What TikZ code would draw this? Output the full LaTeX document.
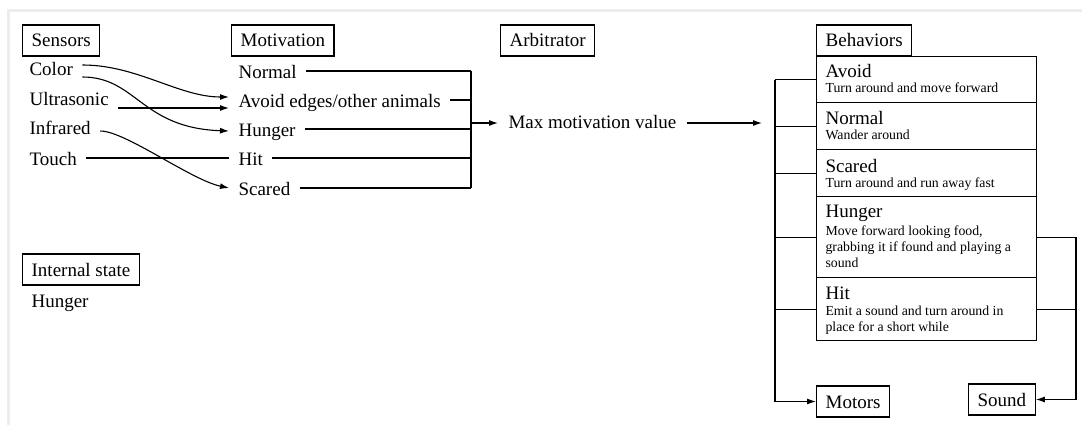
\documentclass[tikz,border=0pt]{standalone}
\usepackage{fontspec}
\setmainfont{Liberation Serif}
\usetikzlibrary{arrows.meta,calc}
\begin{document}
\begin{tikzpicture}[x=1pt,y=-1pt,
  line width=1.1pt,
  lab/.style={font=\fontsize{19}{21}\selectfont, inner xsep=9pt, inner ysep=0pt, text height=17pt, text depth=1pt, anchor=west},
  hdr/.style={draw, line width=1.3pt, font=\fontsize{19}{21}\selectfont, inner xsep=9pt, inner ysep=0pt, text height=22pt, text depth=9pt, anchor=base west},
  btitle/.style={font=\fontsize{19}{21}\selectfont, inner sep=0pt, anchor=base west},
  bsub/.style={font=\fontsize{13.8}{16}\selectfont, inner sep=0pt, anchor=base west},
  bbox/.style={draw, line width=1.3pt, minimum width=220pt, inner sep=0pt, anchor=north west},
  arr/.style={-{Latex[length=9pt,width=6pt]}}
]
\useasboundingbox (0,0) rectangle (1082,425);
% frame
\draw[line width=3pt, black!7] (1082,10.5) -- (8.3,10.5) -- (8.3,425);

% headers
\node[hdr] (sensors) at (22,47) {Sensors};
\node[hdr] (motivation) at (231,47) {Motivation};
\node[hdr] (arbitrator) at (500,47) {Arbitrator};
\node[hdr] (behaviors) at (816,47) {Behaviors};
\node[hdr] (internal) at (22,276) {Internal state};
\node[lab] (ihunger) at (22,299) {Hunger};

% sensors
\node[lab] (color) at (20,68) {Color};
\node[lab] (ultra) at (20,98) {Ultrasonic};
\node[lab] (infra) at (20,127) {Infrared};
\node[lab] (touch) at (20,158) {Touch};

% motivation
\node[lab] (mnormal) at (229,71) {Normal};
\node[lab] (mavoid) at (229,100) {Avoid edges/other animals};
\node[lab] (mhunger) at (229,129) {Hunger};
\node[lab] (mhit) at (229,158) {Hit};
\node[lab] (mscared) at (229,188) {Scared};

% sensor -> motivation
\draw[arr] ([yshift=3pt]color.east) .. controls +(55,0) and +(-50,0) .. ([yshift=3pt]mavoid.west);
\draw[arr] ([yshift=-9pt]color.east) .. controls +(54,0) and +(-88,-3) .. ([yshift=-2pt]mhunger.west);
\draw[arr] ([yshift=-10pt]ultra.east) -- ([yshift=-10pt]ultra.east -| mavoid.west);
\draw[arr] ([yshift=-4pt]infra.east) .. controls +(25,0) and +(-38,-8) .. (mscared.west);
\draw (touch.east) -- (touch.east -| mhit.west);

% motivation bracket
\coordinate (mb) at (471,0);
\coordinate (mout) at (471,123);
\draw (mnormal.east) -- (mnormal.east -| mb);
\draw (mavoid.east) -- (mavoid.east -| mb);
\draw (mhunger.east) -- (mhunger.east -| mb);
\draw (mhit.east) -- (mhit.east -| mb);
\draw (mscared.east) -- (mscared.east -| mb);
\draw (mb |- mnormal.east) -- (mb |- mscared.east);

% arbitrator
\node[lab, inner xsep=10pt] (maxmot) at (498,121) {Max motivation value};
\coordinate (barr) at (762,123);
\draw[arr] (mout) -- (mout -| maxmot.west);
\draw[arr] (maxmot.east |- mout) -- (barr);

% behavior boxes
\node[bbox, minimum height=46pt] (bavoid) at (816,56) {};
\node[bbox, minimum height=47pt] (bnormal) at (816,102) {};
\node[bbox, minimum height=47pt] (bscared) at (816,149) {};
\node[bbox, minimum height=81pt] (bhunger) at (816,196) {};
\node[bbox, minimum height=63pt] (bhit) at (816,277) {};

\node[btitle] (tavoid) at (825,78) {Avoid};
\node[bsub] (savoid) at (825,93) {Turn around and move forward};
\node[btitle] (tnormal) at (825,125) {Normal};
\node[bsub] (snormal) at (825,140) {Wander around};
\node[btitle] (tscared) at (825,172) {Scared};
\node[bsub] (sscared) at (825,187) {Turn around and run away fast};
\node[btitle] (thunger) at (825,218) {Hunger};
\node[bsub] (shunger1) at (825,235) {Move forward looking food,};
\node[bsub] (shunger2) at (825,251) {grabbing it if found and playing a};
\node[bsub] (shunger3) at (825,267) {sound};
\node[btitle] (thit) at (825,299) {Hit};
\node[bsub] (shit1) at (825,315) {Emit a sound and turn around in};
\node[bsub] (shit2) at (825,331) {place for a short while};

% outputs
\node[hdr] (motors) at (816,408) {Motors};
\node[hdr] (sound) at (968,406) {Sound};

% left bracket
\coordinate (lb) at (775,0);
\draw (bavoid.west) -- (bavoid.west -| lb);
\draw (bnormal.west) -- (bnormal.west -| lb);
\draw (bscared.west) -- (bscared.west -| lb);
\draw (bhunger.west) -- (bhunger.west -| lb);
\draw (bhit.west) -- (bhit.west -| lb);
\draw[arr] (lb |- bavoid.west) -- (lb |- motors.west) -- (motors.west);

% right bracket
\coordinate (rb) at (1076,0);
\draw (bhunger.east) -- (bhunger.east -| rb);
\draw (bhit.east) -- (bhit.east -| rb);
\draw[arr] (rb |- bhunger.east) -- (rb |- sound.east) -- (sound.east);
\end{tikzpicture}
\end{document}
